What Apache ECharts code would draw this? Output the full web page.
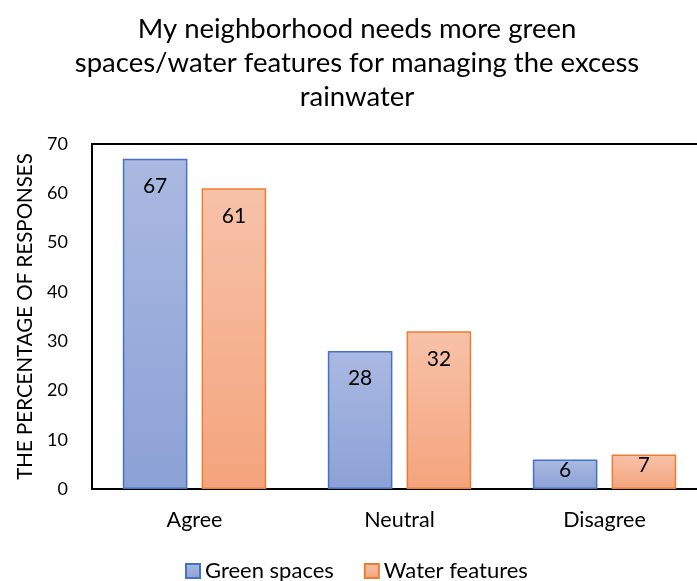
<!DOCTYPE html>
<html>
<head>
<meta charset="utf-8">
<script src="https://cdn.jsdelivr.net/npm/echarts@6/dist/echarts.min.js"></script>
<style>
  html, body { margin: 0; padding: 0; background: #fff; }
  #chart { width: 697px; height: 581px; }
</style>
</head>
<body>
<div id="chart"></div>
<script>
// Survey responses, in percent
const categories = ['Agree', 'Neutral', 'Disagree'];
const greenSpaces = [67, 28, 6];
const waterFeatures = [61, 32, 7];
const yTicks = { min: 0, max: 70, interval: 10 };

const FONT = 'Lato, "Open Sans", sans-serif';

function grad(top, bottom) {
  return new echarts.graphic.LinearGradient(0, 0, 0, 1, [
    { offset: 0, color: top },
    { offset: 1, color: bottom }
  ]);
}

// Short bars keep their label closer to the top edge
function withLabels(values) {
  return values.map(v => (v < 10 ? { value: v, label: { distance: 0 } } : v));
}

function barLabel() {
  return {
    show: true,
    position: 'insideTop',
    distance: 17,
    fontFamily: FONT,
    fontSize: 21,
    color: '#000'
  };
}

const chart = echarts.init(document.getElementById('chart'));
chart.setOption({
  animation: false,
  backgroundColor: '#fff',
  title: {
    text: 'My neighborhood needs more green\nspaces/water features for managing the excess\nrainwater',
    left: 352,
    textAlign: 'center',
    top: 7,
    textStyle: {
      fontFamily: FONT,
      fontSize: 27.5,
      fontWeight: 'normal',
      color: '#000',
      lineHeight: 34
    }
  },
  legend: {
    top: 555,
    left: 180,
    padding: [5, 5, 0, 5],
    itemWidth: 14,
    itemHeight: 14,
    itemGap: 30,
    icon: 'rect',
    textStyle: { fontFamily: FONT, fontSize: 22, color: '#000', lineHeight: 20 },
    data: ['Green spaces', 'Water features']
  },
  grid: {
    left: 92,
    top: 144,
    bottom: 92,
    width: 615,
    outerBoundsMode: 'none',
    containLabel: false,
    show: true,
    borderColor: '#000',
    borderWidth: 2
  },
  xAxis: {
    type: 'category',
    data: categories,
    axisLine: { lineStyle: { color: '#000', width: 2 } },
    axisTick: { show: false },
    axisLabel: { fontFamily: FONT, fontSize: 21.5, color: '#000', margin: 20 }
  },
  yAxis: {
    type: 'value',
    min: yTicks.min,
    max: yTicks.max,
    interval: yTicks.interval,
    name: 'THE PERCENTAGE OF RESPONSES',
    nameLocation: 'middle',
    nameGap: 55,
    nameTextStyle: { fontFamily: FONT, fontSize: 20.5, color: '#000' },
    axisLine: { show: true, lineStyle: { color: '#000', width: 2 } },
    axisTick: { show: false },
    splitLine: { show: false },
    axisLabel: { fontFamily: FONT, fontSize: 18, color: '#000', margin: 24 }
  },
  series: [
    {
      name: 'Green spaces',
      type: 'bar',
      data: withLabels(greenSpaces),
      barWidth: '31.5%',
      barGap: '22%',
      itemStyle: {
        color: grad('#aab9e1', '#8ca1d6'),
        borderColor: '#4472c4',
        borderWidth: 1.5
      },
      label: barLabel()
    },
    {
      name: 'Water features',
      type: 'bar',
      data: withLabels(waterFeatures),
      barWidth: '31.5%',
      barGap: '22%',
      itemStyle: {
        color: grad('#f7c2a9', '#f4a47c'),
        borderColor: '#ed7d31',
        borderWidth: 1.5
      },
      label: barLabel()
    }
  ]
});
</script>
</body>
</html>
